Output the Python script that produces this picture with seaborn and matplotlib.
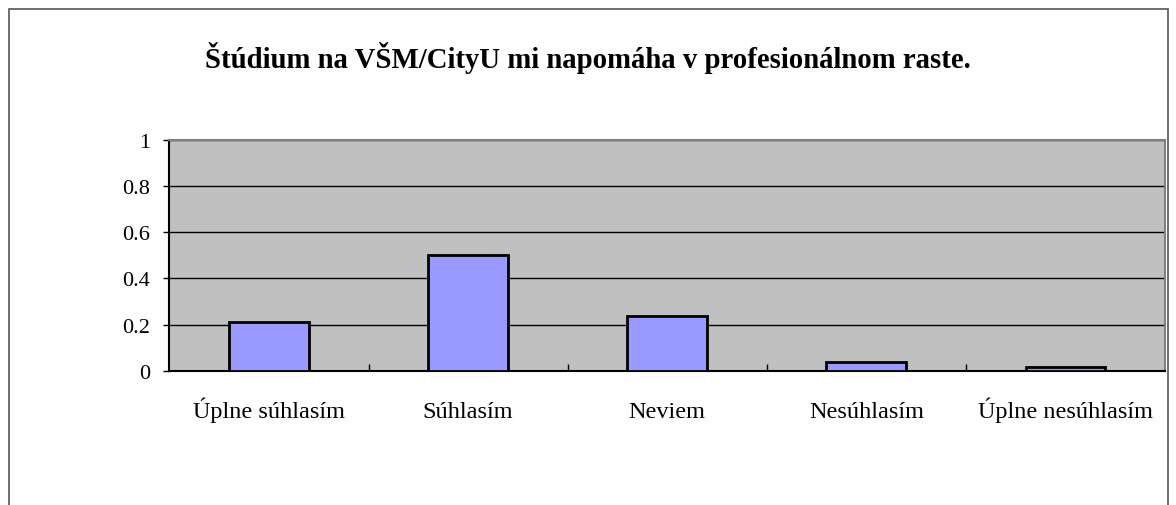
import matplotlib
matplotlib.use("Agg")
import matplotlib.pyplot as plt
import seaborn as sns
import pandas as pd
from matplotlib.patches import Rectangle
from matplotlib.ticker import FixedLocator

# data
categories = ['Úplne súhlasím', 'Súhlasím', 'Neviem', 'Nesúhlasím', 'Úplne nesúhlasím']
values = [0.212, 0.502, 0.238, 0.039, 0.017]
y_ticks = [0, 0.2, 0.4, 0.6, 0.8, 1]
y_tick_labels = ['0', '0.2', '0.4', '0.6', '0.8', '1']
title = 'Štúdium na VŠM/CityU mi napomáha v profesionálnom raste.'

df = pd.DataFrame({'kategoria': categories, 'podiel': values})

sns.set_style('white')
plt.rcParams['font.family'] = ['Liberation Serif', 'DejaVu Serif']
plt.rcParams['text.color'] = 'black'
plt.rcParams['xtick.labelcolor'] = 'black'
plt.rcParams['ytick.labelcolor'] = 'black'

fig = plt.figure(figsize=(11.76, 5.06), dpi=100)
ax = fig.add_axes([0.1441, 0.2654, 0.8465, 0.4565])

sns.barplot(data=df, x='kategoria', y='podiel', color='#9999FF', saturation=1,
            width=0.4, edgecolor='black', linewidth=2, ax=ax, zorder=3)

ax.set_facecolor('#C0C0C0')
ax.set_xlim(-0.5, len(categories) - 0.5)
ax.set_yticks(y_ticks)
ax.set_yticklabels(y_tick_labels)
ax.set_ylim(0, 1)
ax.grid(axis='y', color='black', linewidth=1, zorder=1)
ax.set_axisbelow(True)

ax.set_xlabel('')
ax.set_ylabel('')
ax.tick_params(axis='y', which='major', direction='out', length=4, width=1,
               color='black', labelcolor='black', labelsize=16, pad=10, left=True)
ax.tick_params(axis='x', which='major', length=0, labelsize=17.5, pad=33,
               labelcolor='black')
for lab in ax.get_xticklabels():
    lab.set_verticalalignment('baseline')
ax.xaxis.set_minor_locator(FixedLocator([i + 0.5 for i in range(len(categories) - 1)]))
ax.tick_params(axis='x', which='minor', direction='in', length=5, width=1,
               color='black', bottom=True)

for side in ['left', 'bottom']:
    ax.spines[side].set_color('black')
    ax.spines[side].set_linewidth(1.5)
for side in ['top', 'right']:
    ax.spines[side].set_color('#808080')
    ax.spines[side].set_linewidth(1.5)

fig.text(0.5, 0.885, title, ha='center', va='center', fontsize=20.7,
         fontweight='bold', color='black')

# outer chart frame (bottom edge cut off in the original)
fig.patches.append(Rectangle((8.5 / 1176, -0.1), (1168 - 8.5) / 1176, 1.1 - 10 / 506,
                             transform=fig.transFigure, fill=False,
                             edgecolor='#555555', linewidth=1.2))

fig.savefig('out.png', dpi=100)
